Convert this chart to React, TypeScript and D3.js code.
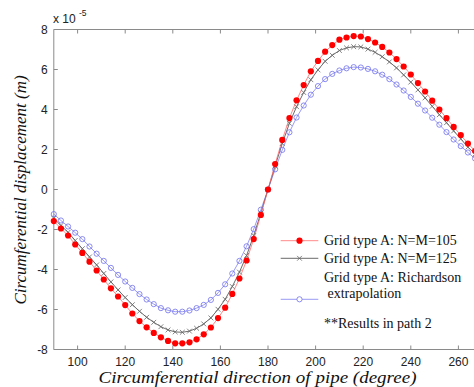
import React from "react";
import * as d3 from "d3";

const angles = [90, 93, 96, 99, 102, 105, 108, 111, 114, 117, 120, 123, 126, 129, 132, 135, 138, 141, 144, 147, 150, 153, 156, 159, 162, 165, 168, 171, 174, 177, 180, 183, 186, 189, 192, 195, 198, 201, 204, 207, 210, 213, 216, 219, 222, 225, 228, 231, 234, 237, 240, 243, 246, 249, 252, 255, 258, 261, 264, 267, 270];

const grid105 = [-1.58, -1.95, -2.30, -2.75, -3.17, -3.61, -4.05, -4.50, -4.94, -5.35, -5.78, -6.20, -6.58, -6.89, -7.17, -7.39, -7.57, -7.69, -7.69, -7.64, -7.49, -7.24, -6.90, -6.43, -5.91, -5.22, -4.45, -3.55, -2.48, -1.27, 0.0, 1.27, 2.48, 3.57, 4.46, 5.22, 5.91, 6.43, 6.89, 7.22, 7.49, 7.60, 7.67, 7.65, 7.52, 7.35, 7.13, 6.85, 6.52, 6.15, 5.75, 5.32, 4.90, 4.44, 4.00, 3.57, 3.13, 2.72, 2.30, 1.93, 1.57];

const grid125 = [-1.44, -1.80, -2.14, -2.55, -2.96, -3.37, -3.77, -4.20, -4.62, -5.02, -5.40, -5.76, -6.09, -6.39, -6.64, -6.86, -7.02, -7.12, -7.14, -7.08, -6.94, -6.72, -6.42, -5.99, -5.49, -4.85, -4.13, -3.30, -2.30, -1.18, 0.0, 1.18, 2.30, 3.31, 4.14, 4.85, 5.49, 5.98, 6.41, 6.71, 6.95, 7.08, 7.14, 7.13, 7.02, 6.86, 6.64, 6.38, 6.08, 5.73, 5.37, 4.98, 4.58, 4.16, 3.74, 3.34, 2.93, 2.53, 2.12, 1.77, 1.42];

const richardson = [-1.23, -1.55, -1.85, -2.16, -2.48, -2.85, -3.21, -3.57, -3.92, -4.27, -4.60, -4.92, -5.23, -5.50, -5.73, -5.93, -6.04, -6.11, -6.11, -6.05, -5.93, -5.77, -5.52, -5.17, -4.74, -4.20, -3.57, -2.84, -1.98, -1.01, 0.0, 1.01, 1.98, 2.86, 3.60, 4.20, 4.74, 5.17, 5.52, 5.78, 5.95, 6.06, 6.12, 6.10, 6.03, 5.91, 5.74, 5.52, 5.25, 4.95, 4.63, 4.29, 3.95, 3.59, 3.24, 2.87, 2.50, 2.17, 1.85, 1.55, 1.24];

const xTicks = [100, 120, 140, 160, 180, 200, 220, 240, 260];
const yTicks = [-8, -6, -4, -2, 0, 2, 4, 6, 8];
const legendLabels = ["Grid type A: N=M=105", "Grid type A: N=M=125", "Grid type A: Richardson", " extrapolation"];
const noteText = "**Results in path 2";

const W = 474;
const H = 387;
const left = 53.8;
const top = 29.5;
const bottom = 349.5;

export default function App() {
  const x = d3.scaleLinear().domain([90, 270]).range([left, left + 180 * 2.38]);
  const y = d3.scaleLinear().domain([-8, 8]).range([bottom, top]);
  const right = W + 20;

  const mk = (vals: number[]) =>
    d3.line<number>().x((_, i) => x(angles[i])).y((v) => y(v))(vals) || "";

  const axisColor = "#8a8a8a";
  const tickFont = "'Liberation Sans', Arial, sans-serif";
  const serif = "'Liberation Serif', 'Times New Roman', serif";

  const redLine = "#ff6a6a";
  const redDot = "#ff0000";
  const blackLine = "#444444";
  const blackMark = "#666666";
  const blueLine = "#8080f2";
  const blueMark = "#7070ee";

  const cross = (cx: number, cy: number, s: number, key: string) => (
    <path key={key} d={`M${cx - s},${cy - s}L${cx + s},${cy + s}M${cx - s},${cy + s}L${cx + s},${cy - s}`} stroke={blackMark} strokeWidth={0.8} fill="none" />
  );

  const lgX1 = 280.7;
  const lgX2 = 318.3;
  const lgMid = (lgX1 + lgX2) / 2;
  const lgText = 324;

  return (
    <svg width={W} height={H} style={{ position: "absolute", left: 0, top: 0, background: "#fff" }}>
      <rect x={0} y={0} width={W} height={H} fill="#fff" />
      {/* axes */}
      <line x1={left} y1={top} x2={right} y2={top} stroke={axisColor} strokeWidth={1} />
      <line x1={left} y1={bottom} x2={right} y2={bottom} stroke={axisColor} strokeWidth={1} />
      <line x1={left} y1={top} x2={left} y2={bottom} stroke={axisColor} strokeWidth={1} />
      {xTicks.map((t) => (
        <g key={"xt" + t}>
          <line x1={x(t)} x2={x(t)} y1={bottom} y2={bottom - 4} stroke={axisColor} />
          <line x1={x(t)} x2={x(t)} y1={top} y2={top + 4} stroke={axisColor} />
          <text x={x(t)} y={bottom + 16} textAnchor="middle" fontFamily={tickFont} fontSize={12} fill="#222">
            {t}
          </text>
        </g>
      ))}
      {yTicks.map((t) => (
        <g key={"yt" + t}>
          <line x1={left} x2={left + 4} y1={y(t)} y2={y(t)} stroke={axisColor} />
          <text x={left - 6} y={y(t)} dy="0.36em" textAnchor="end" fontFamily={tickFont} fontSize={12} fill="#222">
            {t}
          </text>
        </g>
      ))}
      <text x={53} y={23} fontFamily={tickFont} fontSize={12} fill="#222">
        x 10
      </text>
      <text x={79} y={15.5} fontFamily={tickFont} fontSize={8.5} fill="#222">
        -5
      </text>

      {/* series */}
      <path d={mk(richardson)} fill="none" stroke={blueLine} strokeWidth={0.8} />
      <path d={mk(grid125)} fill="none" stroke={blackLine} strokeWidth={0.8} />
      <path d={mk(grid105)} fill="none" stroke={redLine} strokeWidth={0.8} />
      {richardson.map((v, i) => (
        <circle key={"b" + i} cx={x(angles[i])} cy={y(v)} r={2.6} fill="none" stroke={blueMark} strokeWidth={0.8} />
      ))}
      {grid125.map((v, i) => cross(x(angles[i]), y(v), 2.4, "k" + i))}
      {grid105.map((v, i) => (
        <circle key={"r" + i} cx={x(angles[i])} cy={y(v)} r={3.1} fill={redDot} />
      ))}

      {/* legend */}
      <line x1={lgX1} x2={lgX2} y1={240.7} y2={240.7} stroke={redLine} strokeWidth={0.8} />
      <circle cx={lgMid} cy={240.7} r={3.1} fill={redDot} />
      <text x={lgText} y={240.7} dy="0.33em" fontFamily={serif} fontSize={14} fill="#111">
        {legendLabels[0]}
      </text>
      <line x1={lgX1} x2={lgX2} y1={258.3} y2={258.3} stroke={blackLine} strokeWidth={0.8} />
      {cross(lgMid, 258.3, 2.4, "lk")}
      <text x={lgText} y={258.3} dy="0.33em" fontFamily={serif} fontSize={14} fill="#111">
        {legendLabels[1]}
      </text>
      <text x={lgText} y={277.3} dy="0.33em" fontFamily={serif} fontSize={14} fill="#111">
        {legendLabels[2]}
      </text>
      <text x={lgText} y={293.5} dy="0.33em" fontFamily={serif} fontSize={14} fill="#111" style={{ whiteSpace: "pre" }}>
        {legendLabels[3]}
      </text>
      <line x1={lgX1} x2={lgX2} y1={299.3} y2={299.3} stroke={blueLine} strokeWidth={0.8} />
      <circle cx={lgMid} cy={299.3} r={2.6} fill="#fff" stroke={blueMark} strokeWidth={0.8} />
      <text x={lgText} y={323.3} dy="0.33em" fontFamily={serif} fontSize={14} fill="#111">
        {noteText}
      </text>

      {/* axis titles */}
      <text x={257.5} y={383} textAnchor="middle" fontFamily={serif} fontStyle="italic" fontSize={17} fill="#111" textLength={318} lengthAdjust="spacingAndGlyphs">
        Circumferential direction of pipe (degree)
      </text>
      <text transform={`translate(26,190) rotate(-90)`} textAnchor="middle" fontFamily={serif} fontStyle="italic" fontSize={17} fill="#111">
        Circumferential displacement (m)
      </text>
    </svg>
  );
}
